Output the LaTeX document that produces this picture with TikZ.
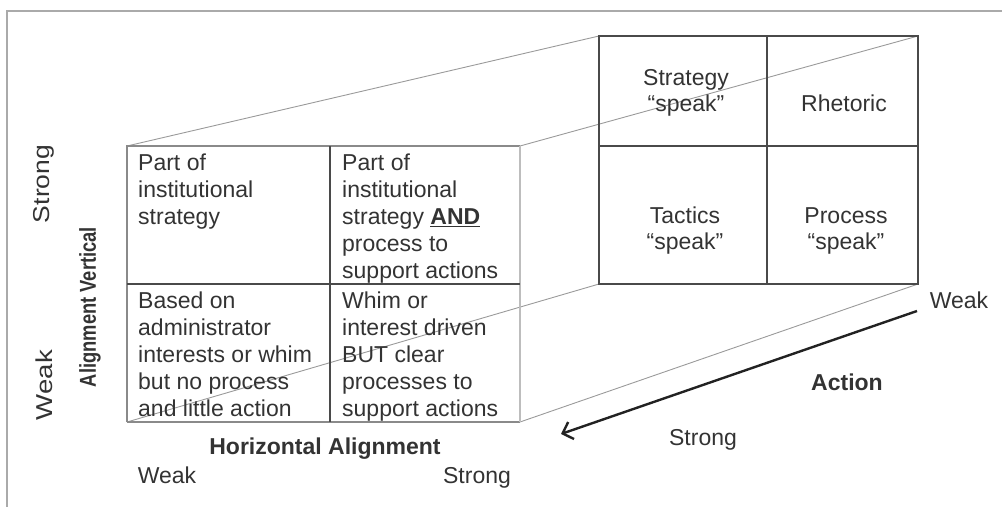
\documentclass[tikz,border=0pt]{standalone}
\usepackage{fontspec}
\setmainfont{Liberation Sans}
\usepackage{graphicx}
\usetikzlibrary{arrows.meta}
\definecolor{txt}{HTML}{333333}
\definecolor{gridc}{HTML}{4a4a4a}
\definecolor{outerc}{HTML}{8a8a8a}
\definecolor{lightc}{HTML}{bdbdbd}
\definecolor{connc}{HTML}{9a9a9a}
\definecolor{framec}{HTML}{aaaaaa}
\definecolor{arrowc}{HTML}{222222}
\newcommand{\celltxt}[2]{\parbox[t]{#1}{\raggedright #2}}
\newcommand{\backtxt}[1]{\parbox[t]{160pt}{\centering\fontsize{23}{26}\selectfont #1}}
\begin{document}
\begin{tikzpicture}[x=1pt,y=-1pt,
  every node/.style={inner sep=0pt, text=txt, font=\fontsize{23}{27.2}\selectfont},
  gridline/.style={draw=gridc, line width=1.6pt},
  outerline/.style={draw=outerc, line width=1.6pt},
  lightline/.style={draw=lightc, line width=1.6pt},
  conn/.style={draw=connc, line width=0.9pt},
  framel/.style={draw=framec, line width=2pt},
  arrowst/.style={draw=arrowc, line width=2.4pt, -{Straight Barb[length=9pt,width=18pt]}},
  boldlab/.style={font=\fontsize{23}{27.2}\selectfont\bfseries}
]
\useasboundingbox (0,0) rectangle (1002,507);
% frame
\coordinate (frTL) at (7,11);
\coordinate (frTR) at (1002,11);
\coordinate (frBL) at (7,507);
\draw[framel] (frTR) -- (frTL) -- (frBL);

% front grid corners
\coordinate (ftl) at (127,146);
\coordinate (ftm) at (330,146);
\coordinate (ftr) at (520,146);
\coordinate (fml) at (127,284);
\coordinate (fmr) at (520,284);
\coordinate (fbl) at (127,422);
\coordinate (fbm) at (330,422);
\coordinate (fbr) at (520,422);
% back grid corners
\coordinate (btl) at (599,36);
\coordinate (btm) at (767,36);
\coordinate (btr) at (918,36);
\coordinate (bml) at (599,146);
\coordinate (bmr) at (918,146);
\coordinate (bbl) at (599,284);
\coordinate (bbm) at (767,284);
\coordinate (bbr) at (918,284);

% connecting lines
\draw[conn] (ftl) -- (btl);
\draw[conn] (ftr) -- (btr);
\draw[conn] (fbl) -- (bbl);
\draw[conn] (fbr) -- (bbr);

% back grid
\draw[gridline] (btl) rectangle (bbr);
\draw[gridline] (btm) -- (bbm);
\draw[gridline] (bml) -- (bmr);

% front grid
\draw[outerline] (fbl) -- (ftl) -- (ftr);
\draw[outerline] (fbl) -- (fbr);
\draw[lightline] (ftr) -- (fbr);
\draw[gridline] (ftm) -- (fbm);
\draw[gridline] (fml) -- (fmr);

% front cell texts
\node[anchor=base west] (c11) at (138,170) {\celltxt{190pt}{Part of\\institutional\\strategy}};
\node[anchor=base west] (c12) at (342,170) {\celltxt{180pt}{Part of\\institutional\\strategy \underline{\textbf{AND}}\\process to\\support actions}};
\node[anchor=base west] (c21) at (138,308) {\celltxt{190pt}{Based on\\administrator\\interests or whim\\but no process\\and little action}};
\node[anchor=base west] (c22) at (342,308) {\celltxt{180pt}{Whim or\\interest driven\\BUT clear\\processes to\\support actions}};

% back cell texts
\node[anchor=base] (b11) at (686,85) {\backtxt{Strategy\\“speak”}};
\node[anchor=base] (b12) at (844,111) {Rhetoric};
\node[anchor=base] (b21) at (685,223) {\backtxt{Tactics\\“speak”}};
\node[anchor=base] (b22) at (846,223) {\backtxt{Process\\“speak”}};

% axis labels
\node[anchor=base, boldlab] (hal) at (325,454) {Horizontal Alignment};
\node[anchor=base] (hweak) at (167,483) {Weak};
\node[anchor=base] (hstrong) at (477,483) {Strong};

\node[rotate=90] (vstrong) at (44,184) {\resizebox{78pt}{\height}{Strong}};
\node[rotate=90] (vweak) at (44,385) {\resizebox{70pt}{\height}{Weak}};
\node[rotate=90, boldlab] (val) at (90,307) {\resizebox{160pt}{\height}{\bfseries Alignment Vertical}};

\node[anchor=base] (aweak) at (959,308) {Weak};
\node[anchor=base, boldlab] (alab) at (847,390) {Action};
\node[anchor=base] (astrong) at (703,445) {Strong};

% action arrow
\coordinate (aS) at (917,311);
\coordinate (aE) at (561,434);
\draw[arrowst] (aS) -- (aE);
\end{tikzpicture}
\end{document}
